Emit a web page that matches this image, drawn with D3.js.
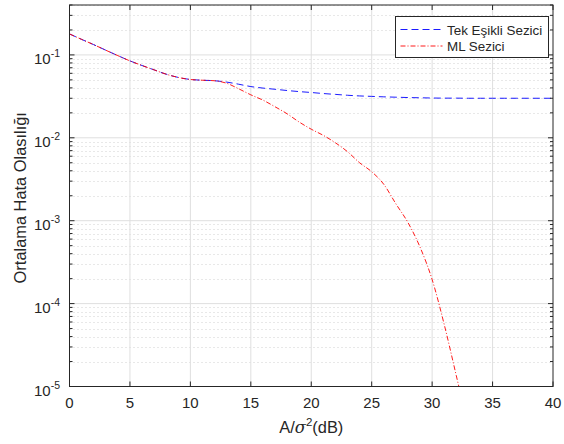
<!DOCTYPE html>
<html>
<head>
<meta charset="utf-8">
<script src="https://cdn.jsdelivr.net/npm/d3@7"></script>
<style>
  body { margin: 0; background: #fff; }
  svg text { font-family: "Liberation Sans", Arial, sans-serif; fill: #262626; }
</style>
</head>
<body>
<div id="chart"></div>
<script>
// x axis values (dB)
const snr = d3.range(0, 41)
// Tek Esikli Sezici
const tekEsik = [0.179, 0.154, 0.133, 0.114, 0.098, 0.0847, 0.0745, 0.066, 0.0585, 0.0535,
    0.0505, 0.0495, 0.0488, 0.047, 0.0443, 0.0415, 0.0398, 0.0385, 0.0372, 0.0361,
    0.0352, 0.0342, 0.0334, 0.0326, 0.032, 0.0316, 0.0312, 0.0309, 0.0306, 0.0304,
    0.0302, 0.0301, 0.0301, 0.03, 0.03, 0.03, 0.03, 0.03, 0.03, 0.03, 0.03]
// ML Sezici (until it drops off the axis)
const mlSnr = d3.range(0, 34)
const mlSezici = [0.179, 0.154, 0.133, 0.114, 0.098, 0.0847, 0.0745, 0.066, 0.0585, 0.0535,
    0.0505, 0.0495, 0.0488, 0.0455, 0.039, 0.033, 0.0285, 0.0237, 0.0195, 0.0155,
    0.0127, 0.0107, 0.0087, 0.0068, 0.005, 0.0039, 0.00275, 0.0016, 0.00095, 0.00048,
    0.000195, 0.000056, 0.0000135, 0.0000032]
const xTicks = [0, 5, 10, 15, 20, 25, 30, 35, 40]
const yTicks = [1e-1, 1e-2, 1e-3, 1e-4, 1e-5]
const seriesNames = ["Tek Eşikli Sezici", "ML Sezici"]

const width = 564, height = 444
const margin = { left: 69.5, right: 11, top: 5, bottom: 57.5 }

const svg = d3.select("#chart").append("svg")
    .attr("width", width)
    .attr("height", height)

const x = d3.scaleLinear().domain([0, 40]).range([margin.left, width - margin.right])
const y = d3.scaleLog().domain([1e-5, 0.4]).range([height - margin.bottom, margin.top])

const x0 = x.range()[0], x1 = x.range()[1]
const yb = y.range()[0], yt = y.range()[1]

// minor grid
let minor = []
for (let e = -5; e <= -1; e++) {
    for (let m = 2; m <= 9; m++) {
        const v = m * Math.pow(10, e)
        if (v <= 0.4) minor.push(v)
    }
}
svg.append("g").selectAll("line").data(minor).join("line")
    .attr("x1", x0).attr("x2", x1)
    .attr("y1", d => Math.round(y(d)) + 0.5).attr("y2", d => Math.round(y(d)) + 0.5)
    .attr("stroke", "#d0d0d0").attr("stroke-width", 1).attr("stroke-dasharray", "1,3")

// major grid
svg.append("g").selectAll("line").data(xTicks.slice(1, -1)).join("line")
    .attr("x1", d => x(d)).attr("x2", d => x(d))
    .attr("y1", yb).attr("y2", yt)
    .attr("stroke", "#dfdfdf").attr("stroke-width", 1)
svg.append("g").selectAll("line").data(yTicks.slice(0, -1)).join("line")
    .attr("x1", x0).attr("x2", x1)
    .attr("y1", d => y(d)).attr("y2", d => y(d))
    .attr("stroke", "#dfdfdf").attr("stroke-width", 1)

// clip for curves
svg.append("clipPath").attr("id", "clip")
    .append("rect").attr("x", x0).attr("y", yt).attr("width", x1 - x0).attr("height", yb - yt)

const line = d3.line().x(d => x(d[0])).y(d => y(d[1])).curve(d3.curveMonotoneX)

svg.append("path")
    .datum(snr.map((s, i) => [s, tekEsik[i]]))
    .attr("clip-path", "url(#clip)")
    .attr("fill", "none")
    .attr("stroke", "#0000ff")
    .attr("stroke-width", 0.9)
    .attr("stroke-dasharray", "7,4")
    .attr("d", line)

svg.append("path")
    .datum(mlSnr.map((s, i) => [s, mlSezici[i]]))
    .attr("clip-path", "url(#clip)")
    .attr("fill", "none")
    .attr("stroke", "#ff0000")
    .attr("stroke-width", 0.9)
    .attr("stroke-dasharray", "5,2,1,2")
    .attr("d", line)

// axes box
svg.append("rect")
    .attr("x", x0).attr("y", yt).attr("width", x1 - x0).attr("height", yb - yt)
    .attr("fill", "none").attr("stroke", "#262626").attr("stroke-width", 1)

// ticks (inside)
const tickLen = 5
svg.append("g").selectAll("line").data(xTicks).join("line")
    .attr("x1", d => x(d)).attr("x2", d => x(d))
    .attr("y1", yb).attr("y2", yb - tickLen)
    .attr("stroke", "#262626")
svg.append("g").selectAll("line").data(xTicks).join("line")
    .attr("x1", d => x(d)).attr("x2", d => x(d))
    .attr("y1", yt).attr("y2", yt + tickLen)
    .attr("stroke", "#262626")
svg.append("g").selectAll("line").data(yTicks).join("line")
    .attr("x1", x0).attr("x2", x0 + tickLen)
    .attr("y1", d => y(d)).attr("y2", d => y(d))
    .attr("stroke", "#262626")
svg.append("g").selectAll("line").data(yTicks).join("line")
    .attr("x1", x1).attr("x2", x1 - tickLen)
    .attr("y1", d => y(d)).attr("y2", d => y(d))
    .attr("stroke", "#262626")
svg.append("g").selectAll("line").data(minor).join("line")
    .attr("x1", x0).attr("x2", x0 + 3)
    .attr("y1", d => y(d)).attr("y2", d => y(d))
    .attr("stroke", "#262626")
svg.append("g").selectAll("line").data(minor).join("line")
    .attr("x1", x1).attr("x2", x1 - 3)
    .attr("y1", d => y(d)).attr("y2", d => y(d))
    .attr("stroke", "#262626")

// tick labels
svg.append("g").selectAll("text").data(xTicks).join("text")
    .attr("x", d => x(d)).attr("y", yb + 21.5)
    .attr("text-anchor", "middle")
    .attr("font-size", 15)
    .text(d => d)

const yl = svg.append("g").selectAll("text").data(yTicks).join("text")
    .attr("x", x0 - 9.5).attr("y", d => y(d) + 9)
    .attr("text-anchor", "end")
    .attr("font-size", 15)
yl.append("tspan").text("10")
yl.append("tspan").attr("dy", -7).attr("font-size", 10.5)
    .text(d => "-" + Math.round(-Math.log10(d)))

// axis labels
const xl = svg.append("text")
    .attr("x", (x0 + x1) / 2).attr("y", 433)
    .attr("text-anchor", "middle")
    .attr("font-size", 16.4)
xl.append("tspan").text("A/")
xl.append("tspan").attr("font-style", "italic").attr("font-family", "DejaVu Serif, serif").text("σ")
xl.append("tspan").attr("dy", -7).attr("font-size", 11.5).text("2")
xl.append("tspan").attr("dy", 7).text("(dB)")

svg.append("text")
    .attr("transform", `translate(26, ${(yt + yb) / 2 + 2}) rotate(-90)`)
    .attr("text-anchor", "middle")
    .attr("font-size", 16.4)
    .text("Ortalama Hata Olasılığı")

// legend
const lg = svg.append("g").attr("transform", "translate(395.5, 16.5)")
lg.append("rect").attr("width", 153).attr("height", 41)
    .attr("fill", "#fff").attr("stroke", "#262626").attr("stroke-width", 1)
const styles = [{ c: "#0000ff", d: "7,4" }, { c: "#ff0000", d: "5,2,1,2" }]
seriesNames.forEach((name, i) => {
    const yy = 13 + i * 16.5
    lg.append("line").attr("x1", 5).attr("x2", 47).attr("y1", yy).attr("y2", yy)
        .attr("stroke", styles[i].c).attr("stroke-width", 0.9).attr("stroke-dasharray", styles[i].d)
    lg.append("text").attr("x", 51.5).attr("y", yy + 5)
        .attr("font-size", 13.4).text(name)
})
</script>
</body>
</html>
